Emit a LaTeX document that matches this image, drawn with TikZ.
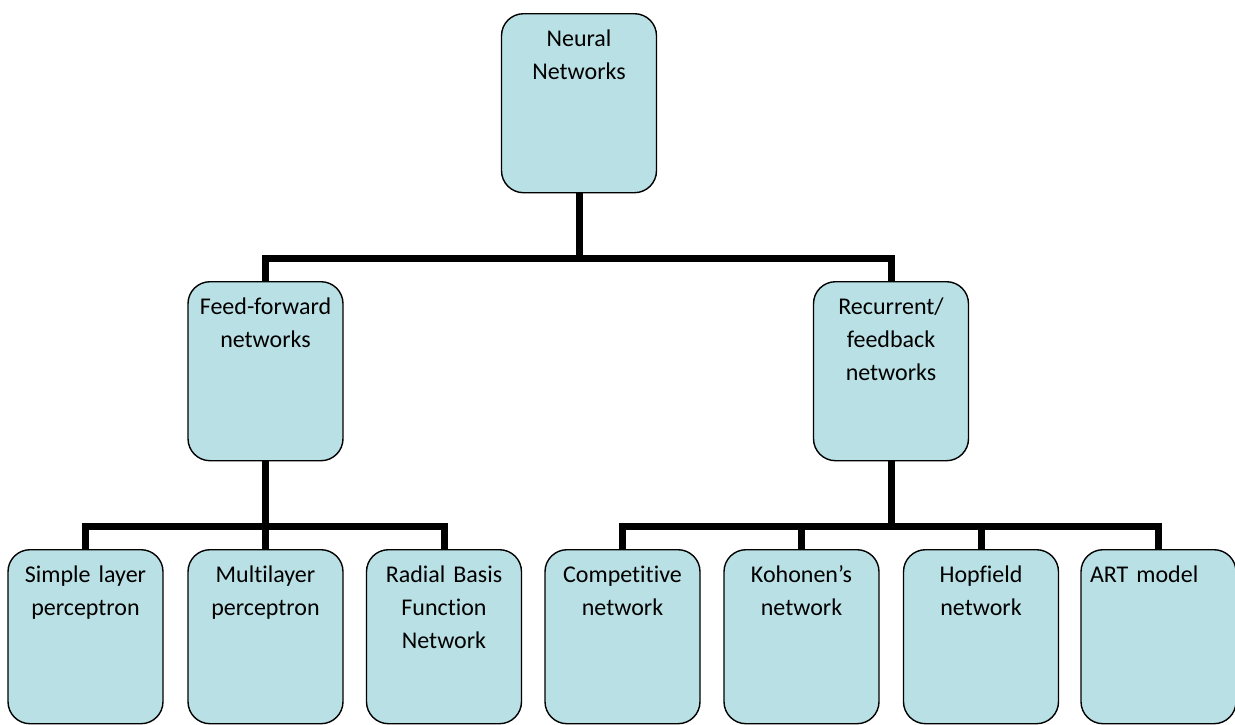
\documentclass[tikz,border=0pt]{standalone}
\usepackage{fontspec}
\setmainfont{Carlito}[Ligatures=CommonOff]
\definecolor{boxfill}{RGB}{185,224,228}
\begin{document}
\begin{tikzpicture}[x=1pt,y=-1pt,
  box/.style={draw=black, line width=1.4pt, fill=boxfill, rounded corners=22pt,
    anchor=north, inner sep=0pt, text width=155pt, align=center,
    font=\fontsize{24}{33}\selectfont, text height=33pt},
  bigbox/.style={box, text depth=146pt},
  leafbox/.style={box, text depth=141pt},
  conn/.style={line width=7pt, line join=miter}]
\useasboundingbox (0,0) rectangle (1235,724);
\node[bigbox] (nn) at (579,13) {Neural\\Networks};
\node[bigbox] (ff) at (265.5,281) {Feed-forward\\networks};
\node[bigbox] (rec) at (891,281) {Recurrent/\\feedback\\networks};
\node[leafbox] (simple) at (85.5,549) {Simple layer\\perceptron};
\node[leafbox] (multi) at (265.5,549) {Multilayer\\perceptron};
\node[leafbox] (radial) at (444,549) {Radial Basis\\Function\\Network};
\node[leafbox] (comp) at (622.5,549) {Competitive\\network};
\node[leafbox] (koh) at (801.5,549) {Kohonen’s\\network};
\node[leafbox] (hop) at (981,549) {Hopfield\\network};
\node[leafbox, align=left, inner xsep=9pt, text width=137pt] (art) at (1158.5,549) {ART model};
\coordinate (bar1) at (0,258);
\coordinate (bar2) at (0,526);
\draw[conn] (nn.south) -- (nn.south |- bar1);
\draw[conn] (ff.north) -- (ff.north |- bar1) -| (rec.north);
\draw[conn] (ff.south) -- (multi.north);
\draw[conn] (simple.north) -- (simple.north |- bar2) -| (radial.north);
\draw[conn] (rec.south) -- (rec.south |- bar2);
\draw[conn] (comp.north) -- (comp.north |- bar2) -| (art.north);
\draw[conn] (koh.north) -- (koh.north |- bar2);
\draw[conn] (hop.north) -- (hop.north |- bar2);
\end{tikzpicture}
\end{document}
